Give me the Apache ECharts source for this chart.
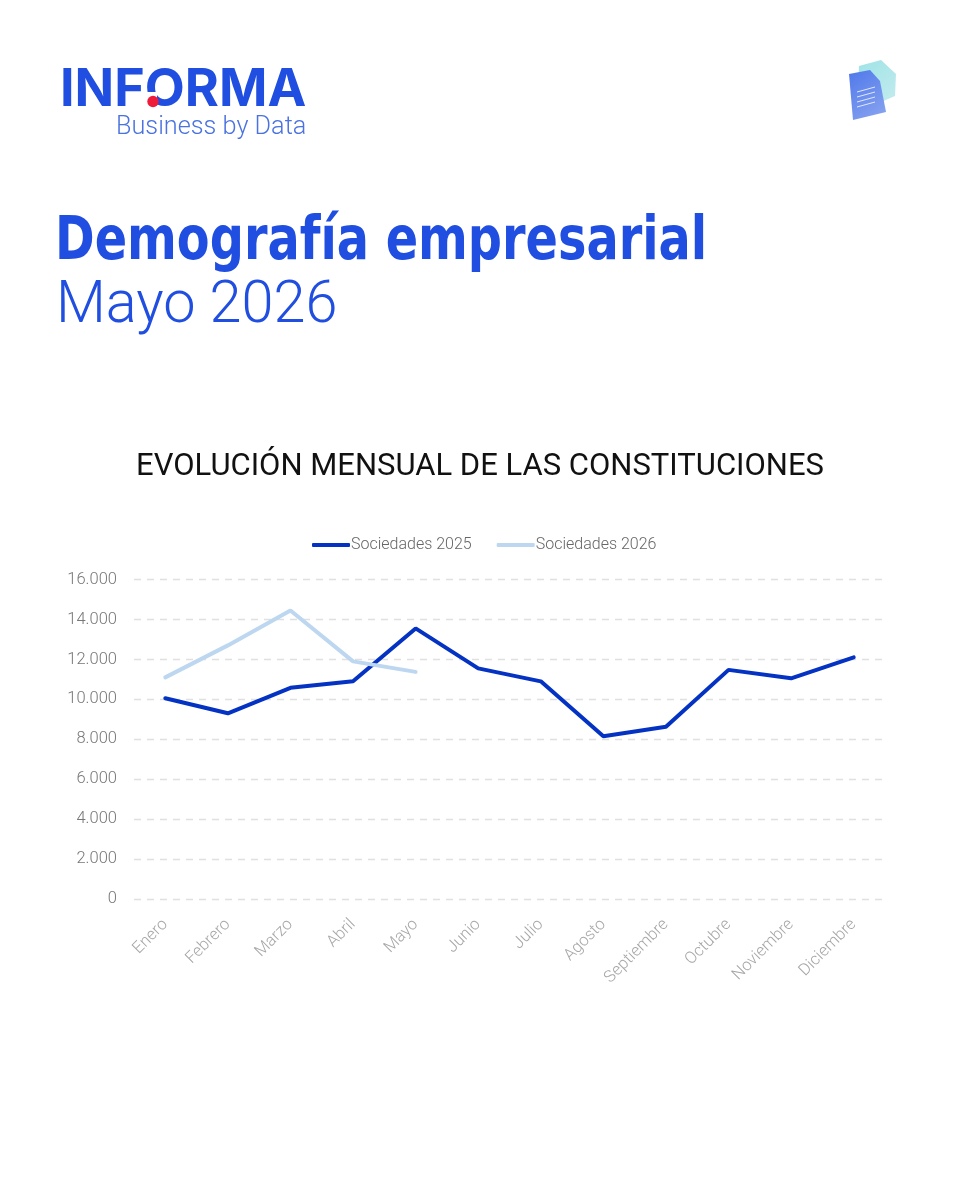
<!DOCTYPE html>
<html><head><meta charset="utf-8">
<style>html,body{margin:0;padding:0;background:#fff}#c{width:960px;height:1200px}</style>
<script src="https://cdn.jsdelivr.net/npm/echarts@6/dist/echarts.min.js"></script></head>
<body><div id="c"></div>
<script>
const months = ['Enero','Febrero','Marzo','Abril','Mayo','Junio','Julio','Agosto','Septiembre','Octubre','Noviembre','Diciembre'];
const sociedades2025 = [10050,9300,10575,10900,13550,11550,10900,8150,8625,11475,11050,12100];
const sociedades2026 = [11100,12700,14450,11900,11375];
const chart = echarts.init(document.getElementById('c'), null, {renderer:'canvas', width:960, height:1200});
const blue = '#1f4ee0';
function txt(x,y,text,font,fill,sx){return {type:'text',x,y,scaleX:sx||1,style:{text,font,fill,textVerticalAlign:'middle',textBaseline:'middle'}};}
const grad=(a,b)=>new echarts.graphic.LinearGradient(0,0,1,1,[{offset:0,color:a},{offset:1,color:b}]);
chart.setOption({
  backgroundColor:'#ffffff',
  animation:false,
  title:{text:'EVOLUCIÓN MENSUAL DE LAS CONSTITUCIONES',left:'center',top:447,textStyle:{fontFamily:'Roboto',fontWeight:400,fontSize:31,color:'#111111'}},
  legend:{top:532,left:307,itemGap:25,itemWidth:38,itemHeight:4,icon:'roundRect',textStyle:{fontFamily:'Roboto',fontWeight:300,fontSize:16,color:'#666666',padding:[0,0,0,-4]},data:['Sociedades 2025','Sociedades 2026']},
  grid:{left:134,right:75,top:579.5,height:319.5,containLabel:false},
  xAxis:{type:'category',data:months,boundaryGap:true,axisLine:{show:false},axisTick:{show:false},axisLabel:{rotate:45,interval:0,margin:23,fontFamily:'Roboto',fontWeight:300,fontSize:16.5,color:'#a6a6a6'}},
  yAxis:{type:'value',min:0,max:16000,interval:2000,axisLine:{show:false},axisTick:{show:false},axisLabel:{margin:17,padding:[6,0,0,0],fontFamily:'Roboto',fontWeight:300,fontSize:16.5,color:'#777777',formatter:v=>String(v).replace(/\B(?=(\d{3})+$)/g,'.')},splitLine:{lineStyle:{color:'#e0e0e0',type:[7,6],width:1.3}}},
  series:[
    {name:'Sociedades 2025',type:'line',data:sociedades2025,symbol:'none',lineStyle:{color:'#0433c4',width:4,cap:'round'},itemStyle:{color:'#0433c4'}},
    {name:'Sociedades 2026',type:'line',data:sociedades2026,symbol:'none',lineStyle:{color:'#bdd7f0',width:4,cap:'round'},itemStyle:{color:'#bdd7f0'}}
  ],
  graphic:[
    txt(60,90,'INFORMA','700 52px Inter',blue,1.0),
    {type:'rect',shape:{x:146,y:92,width:11,height:18},style:{fill:'#fff'}},
    {type:'circle',shape:{cx:153,cy:101.5,r:5.7},style:{fill:'#ee1c3a'}},
    txt(116,128,'Business by Data','300 25px Roboto','#4a72e0',1.01),
    txt(55,243,'Demografía empresarial','700 60px "DejaVu Sans Condensed"',blue,0.885),
    txt(56,307,'Mayo 2026','300 60px Roboto',blue,0.96),
    {type:'polygon',shape:{points:[[859,66],[881,60],[896,74],[895,96],[872,106],[858,90]]},style:{fill:grad('#9fe3e6','#c4ecef')}},
    {type:'polygon',shape:{points:[[849,74],[870,70],[880,81],[886,112],[853,120]]},style:{fill:grad('#4f78ea','#8ba6f0')}},
    ...[0,1,2,3].map(i=>({type:'line',shape:{x1:857,y1:92+i*5,x2:875,y2:87+i*5},style:{stroke:'#dfe8fb',lineWidth:1}}))
  ]
});
</script></body></html>
